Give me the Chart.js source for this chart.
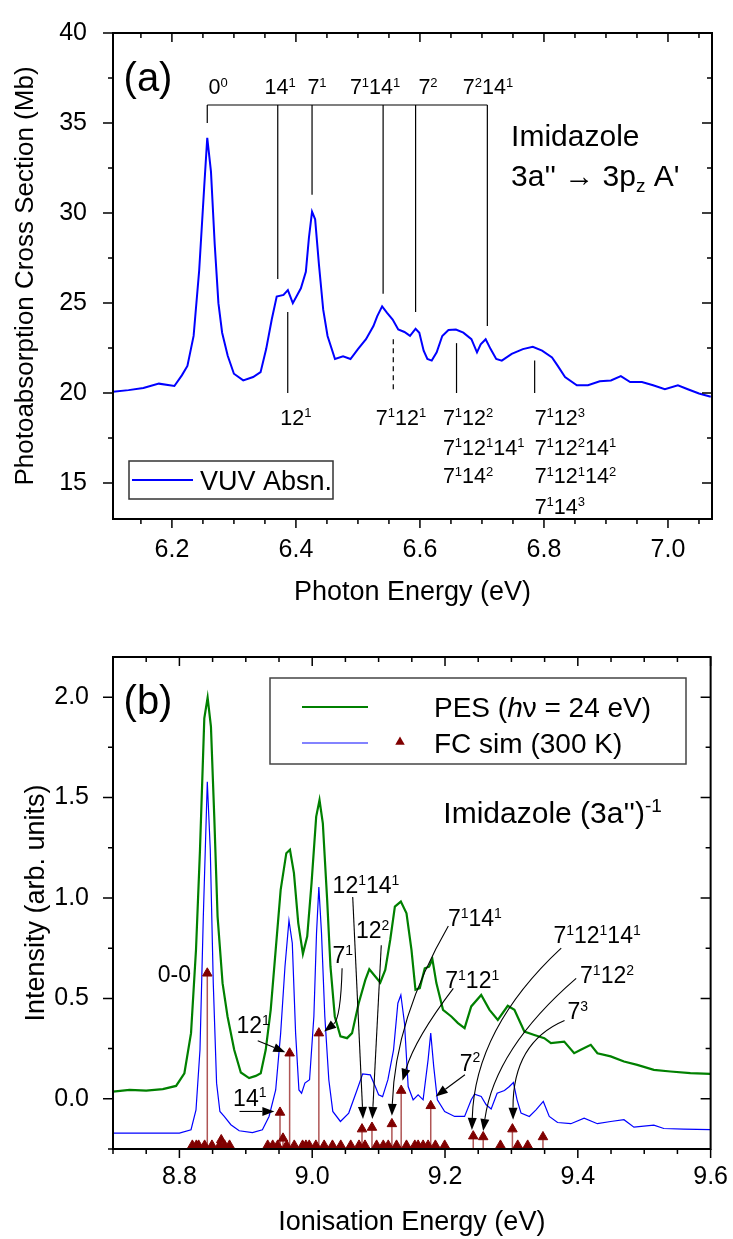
<!DOCTYPE html>
<html lang="en">
<head>
<meta charset="UTF-8" />
<title>Imidazole 3a'' spectra</title>
<style>
  html, body { margin: 0; padding: 0; background: #fff; }
  #wrap { position: relative; width: 733px; height: 1239px; }
  canvas { position: absolute; left: 0; }
  #chartA { top: 0; }
  #chartB { top: 620px; }
</style>
</head>
<body>
<div id="wrap">
  <canvas id="chartA" width="733" height="620"></canvas>
  <canvas id="chartB" width="733" height="619"></canvas>
</div>
<script src="https://cdn.jsdelivr.net/npm/chart.js@4.4.1/dist/chart.umd.min.js"></script>
<script>
// ---- panel (a): VUV absorption ----
const vuvEnergy = [6.105, 6.130, 6.154, 6.179, 6.204, 6.216, 6.225, 6.235, 6.244, 6.252,
  6.257, 6.263, 6.269, 6.275, 6.281, 6.290, 6.300, 6.315, 6.331, 6.343,
  6.352, 6.361, 6.369, 6.380, 6.387, 6.395, 6.408, 6.416, 6.421, 6.426,
  6.431, 6.437, 6.444, 6.451, 6.463, 6.476, 6.488, 6.500, 6.513, 6.525,
  6.531, 6.539, 6.547, 6.556, 6.565, 6.575, 6.584, 6.593, 6.599, 6.606,
  6.612, 6.619, 6.627, 6.636, 6.646, 6.658, 6.670, 6.683, 6.692, 6.698,
  6.706, 6.714, 6.723, 6.732, 6.748, 6.766, 6.782, 6.797, 6.813, 6.822,
  6.834, 6.853, 6.871, 6.890, 6.908, 6.924, 6.939, 6.958, 6.976, 6.995,
  7.016, 7.032, 7.050, 7.069];
const vuvCross = [20.07, 20.16, 20.28, 20.52, 20.39, 20.98, 21.5, 23.17, 26.82, 31.4,
  34.18, 32.3, 28.28, 24.99, 23.35, 22.07, 21.07, 20.7, 20.89, 21.16,
  22.44, 24.08, 25.36, 25.45, 25.72, 24.99, 25.82, 26.73, 28.64, 30.07,
  29.65, 27.18, 24.63, 23.17, 21.89, 22.04, 21.89, 22.44, 22.99, 23.72,
  24.26, 24.81, 24.45, 24.08, 23.53, 23.39, 23.17, 23.57, 23.35, 22.35,
  21.89, 21.8, 22.26, 23.17, 23.5, 23.53, 23.35, 22.99, 22.26, 22.71,
  22.99, 22.44, 21.89, 21.8, 22.17, 22.44, 22.57, 22.35, 21.98, 21.52,
  20.89, 20.43, 20.43, 20.65, 20.70, 20.94, 20.61, 20.61, 20.43, 20.21,
  20.43, 20.21, 19.97, 19.79];
const xTicksA = [6.2, 6.4, 6.6, 6.8, 7.0];
const yTicksA = [15, 20, 25, 30, 35, 40];

// ---- panel (b): PES, FC envelope and sticks ----
const pesEnergy = [8.7, 8.725, 8.75, 8.775, 8.795, 8.8075, 8.8175, 8.825, 8.831, 8.8375,
  8.8425, 8.8475, 8.8525, 8.8575, 8.865, 8.8725, 8.8825, 8.8925, 8.905, 8.915,
  8.9225, 8.93, 8.9375, 8.945, 8.9525, 8.961, 8.9665, 8.9725, 8.979, 8.986,
  8.9925, 8.999, 9.006, 9.011, 9.016, 9.0225, 9.0275, 9.034, 9.0425, 9.0525,
  9.06, 9.07, 9.08, 9.086, 9.095, 9.1025, 9.11, 9.1175, 9.1245, 9.1335,
  9.142, 9.1495, 9.1555, 9.162, 9.1695, 9.176, 9.181, 9.187, 9.197, 9.2095,
  9.2195, 9.2295, 9.2395, 9.2545, 9.267, 9.2795, 9.2945, 9.3045, 9.3195, 9.3345,
  9.3495, 9.3595, 9.3795, 9.3945, 9.4045, 9.4195, 9.4295, 9.4495, 9.4695, 9.4895,
  9.5145, 9.5395, 9.5695, 9.5995];
const pesIntensity = [0.036, 0.044, 0.041, 0.048, 0.064, 0.127, 0.327, 0.742, 1.24, 1.894,
  1.998, 1.853, 1.405, 0.907, 0.576, 0.41, 0.244, 0.131, 0.103, 0.114,
  0.127, 0.244, 0.443, 0.742, 1.04, 1.223, 1.24, 1.124, 0.875, 0.722,
  0.809, 1.074, 1.405, 1.488, 1.372, 0.991, 0.659, 0.41, 0.311, 0.302,
  0.327, 0.476, 0.592, 0.645, 0.609, 0.579, 0.642, 0.792, 0.957, 0.982,
  0.924, 0.742, 0.543, 0.551, 0.65, 0.658, 0.695, 0.576, 0.443, 0.41,
  0.377, 0.352, 0.46, 0.517, 0.443, 0.393, 0.463, 0.443, 0.335, 0.318,
  0.302, 0.277, 0.285, 0.227, 0.244, 0.269, 0.227, 0.211, 0.186, 0.169,
  0.144, 0.136, 0.128, 0.124];

const fcEnergy = [8.7, 8.8, 8.8175, 8.825, 8.831, 8.836, 8.842, 8.8465, 8.851, 8.856,
  8.861, 8.8675, 8.8775, 8.89, 8.91, 8.925, 8.935, 8.945, 8.9525, 8.959,
  8.965, 8.97, 8.975, 8.98, 8.984, 8.989, 8.996, 9.0025, 9.0065, 9.01,
  9.014, 9.019, 9.025, 9.031, 9.0425, 9.055, 9.0675, 9.076, 9.0875, 9.095,
  9.1, 9.106, 9.114, 9.1225, 9.129, 9.1335, 9.139, 9.1445, 9.152, 9.1595,
  9.167, 9.1745, 9.1785, 9.183, 9.1885, 9.1995, 9.2145, 9.2295, 9.2395, 9.2445,
  9.2545, 9.262, 9.2695, 9.2785, 9.2895, 9.297, 9.303, 9.3085, 9.3145, 9.327,
  9.337, 9.348, 9.357, 9.3695, 9.3895, 9.4095, 9.4295, 9.4495, 9.4695, 9.4845,
  9.5145, 9.5295, 9.5595, 9.5995];
const fcIntensity = [-0.171, -0.171, -0.154, -0.055, 0.244, 0.907, 1.579, 1.24, 0.576, 0.078,
  -0.063, -0.088, -0.129, -0.159, -0.168, -0.154, -0.088, 0.044, 0.327, 0.659,
  0.888, 0.775, 0.327, 0.044, 0.028, 0.078, 0.095, 0.41, 0.825, 1.054,
  0.825, 0.41, 0.095, -0.063, -0.113, -0.071, 0.044, 0.124, 0.119, 0.061,
  0.02, 0.011, 0.095, 0.244, 0.476, 0.517, 0.376, 0.061, -0.005, 0.02,
  -0.005, 0.194, 0.327, 0.16, -0.005, -0.063, -0.088, -0.088, -0.005, 0.023,
  0.012, -0.03, -0.051, 0.028, 0.041, 0.061, 0.081, -0.005, -0.071, -0.088,
  -0.055, -0.013, -0.088, -0.118, -0.124, -0.096, -0.124, -0.113, -0.104, -0.141,
  -0.131, -0.148, -0.151, -0.154];

const stickEnergy = [8.8195, 8.8255, 8.829, 8.838, 8.842, 8.849, 8.8605, 8.863, 8.868, 8.8755,
  8.933, 8.9405, 8.948, 8.9515, 8.956, 8.9615, 8.966, 8.973, 8.9855, 8.9905,
  8.9955, 9.0055, 9.01, 9.018, 9.0305, 9.043, 9.058, 9.0705, 9.075, 9.0795,
  9.09, 9.097, 9.107, 9.1145, 9.12, 9.127, 9.134, 9.142, 9.1545, 9.1595,
  9.167, 9.1745, 9.1785, 9.1855, 9.1995, 9.2425, 9.2575, 9.2835, 9.3015, 9.3095,
  9.3245, 9.3475];
const stickIntensity = [-0.232, -0.232, -0.232, -0.232, 0.625, -0.232, -0.232, -0.205, -0.232, -0.232,
  -0.232, -0.232, -0.232, -0.068, -0.197, -0.232, 0.227, -0.232, -0.232, -0.232,
  -0.232, -0.232, 0.327, -0.232, -0.232, -0.232, -0.232, -0.232, -0.151, -0.232,
  -0.143, -0.232, -0.232, -0.232, -0.125, -0.232, 0.041, -0.232, -0.232, -0.232,
  -0.232, -0.232, -0.035, -0.232, -0.232, -0.186, -0.19, -0.232, -0.151, -0.232,
  -0.232, -0.19];
const xTicksB = [8.8, 9.0, 9.2, 9.4, 9.6];
const yTicksB = [0.0, 0.5, 1.0, 1.5, 2.0];

// ---- assignment annotations (data coordinates) ----
const bracketA = { y: 36.0, lines: [[6.257, 35.0], [6.3707, 26.33], [6.426, 31.02], [6.5406, 25.51], [6.593, 24.5], [6.7087, 23.72]] };
const dropLinesA = [[6.3868, 24.5, false], [6.557, 22.99, true], [6.659, 22.77, false], [6.785, 21.8, false]];
const labelsA = [
  { t: '0^{0}', x: 6.2744, y: 37.02, a: 'center' },
  { t: '14^{1}', x: 6.3744, y: 37.02, a: 'center' },
  { t: '7^{1}', x: 6.434, y: 37.02, a: 'center' },
  { t: '7^{1}14^{1}', x: 6.5276, y: 37.02, a: 'center' },
  { t: '7^{2}', x: 6.613, y: 37.02, a: 'center' },
  { t: '7^{2}14^{1}', x: 6.7098, y: 37.02, a: 'center' },
  { t: '12^{1}', x: 6.400, y: 18.64, a: 'center' },
  { t: '7^{1}12^{1}', x: 6.5695, y: 18.64, a: 'center' },
  { t: '7^{1}12^{2}', x: 6.637, y: 18.64, a: 'left' },
  { t: '7^{1}12^{1}14^{1}', x: 6.637, y: 17.0, a: 'left' },
  { t: '7^{1}14^{2}', x: 6.637, y: 15.41, a: 'left' },
  { t: '7^{1}12^{3}', x: 6.785, y: 18.64, a: 'left' },
  { t: '7^{1}12^{2}14^{1}', x: 6.785, y: 17.0, a: 'left' },
  { t: '7^{1}12^{1}14^{2}', x: 6.785, y: 15.41, a: 'left' },
  { t: '7^{1}14^{3}', x: 6.785, y: 13.71, a: 'left' },
  { t: 'Imidazole', x: 6.747, y: 34.3, a: 'left', s: 30 },
  { t: "3a'' \u2192 3p_{z} A'", x: 6.747, y: 32.1, a: 'left', s: 30 }
];
const labelsB = [
  { t: '0-0', x: 8.7925, y: 0.625 },
  { t: '12^{1}', x: 8.911, y: 0.368 },
  { t: '14^{1}', x: 8.906, y: 0.007 },
  { t: '7^{1}', x: 9.046, y: 0.716 },
  { t: '12^{1}14^{1}', x: 9.081, y: 1.065 },
  { t: '12^{2}', x: 9.091, y: 0.84 },
  { t: '7^{1}14^{1}', x: 9.245, y: 0.90 },
  { t: '7^{1}12^{1}', x: 9.241, y: 0.592 },
  { t: '7^{2}', x: 9.2375, y: 0.181 },
  { t: '7^{1}12^{1}14^{1}', x: 9.429, y: 0.816 },
  { t: '7^{1}12^{2}', x: 9.444, y: 0.617 },
  { t: '7^{3}', x: 9.40, y: 0.438 }
];
const arrowsB = [
  { from: [8.918, 0.289], to: [8.9595, 0.232] },
  { from: [8.8905, -0.063], to: [8.943, -0.063] },
  { from: [9.045, 0.65], ctrl: [9.043, 0.40], to: [9.018, 0.335] },
  { from: [9.061, 1.005], to: [9.0765, -0.10] },
  { from: [9.104, 0.765], to: [9.0905, -0.10] },
  { from: [9.205, 0.86], ctrl: [9.125, 0.40], to: [9.12, -0.085] },
  { from: [9.2125, 0.55], ctrl: [9.155, 0.30], to: [9.136, 0.09] },
  { from: [9.23, 0.12], to: [9.186, 0.012] },
  { from: [9.375, 0.75], ctrl: [9.245, 0.35], to: [9.2405, -0.155] },
  { from: [9.3975, 0.6], ctrl: [9.275, 0.25], to: [9.2575, -0.16] },
  { from: [9.38, 0.39], ctrl: [9.302, 0.28], to: [9.3025, -0.104] }
];

const FONT = "'Liberation Sans', Arial, sans-serif";
Chart.defaults.font.family = FONT;
Chart.defaults.color = '#000';

function zip(xs, ys) { return xs.map((x, i) => ({ x: x, y: ys[i] })); }

function parseRich(str) {
  const segs = [];
  let i = 0, buf = '';
  while (i < str.length) {
    const c = str[i];
    if ((c === '^' || c === '_' || c === '*') && str[i + 1] === '{') {
      if (buf) { segs.push({ t: buf, k: '' }); buf = ''; }
      const end = str.indexOf('}', i);
      segs.push({ t: str.slice(i + 2, end), k: c });
      i = end + 1;
    } else { buf += c; i++; }
  }
  if (buf) segs.push({ t: buf, k: '' });
  return segs;
}

// text with ^{sup}, _{sub}, *{italic}; y is the vertical centre of the main glyphs
function drawRich(ctx, str, x, y, size, align) {
  const segs = parseRich(str);
  const small = Math.round(size * 0.62);
  const fontOf = s => (s.k === '*' ? 'italic ' : '') + ((s.k === '^' || s.k === '_') ? small : size) + 'px ' + FONT;
  let w = 0;
  segs.forEach(s => { ctx.font = fontOf(s); s.w = ctx.measureText(s.t).width; w += s.w; });
  let cx = align === 'center' ? x - w / 2 : (align === 'right' ? x - w : x);
  const base = y + size * 0.36;
  ctx.textAlign = 'left';
  ctx.textBaseline = 'alphabetic';
  segs.forEach(s => {
    ctx.font = fontOf(s);
    let dy = 0;
    if (s.k === '^') dy = -size * 0.36;
    if (s.k === '_') dy = size * 0.2;
    ctx.fillText(s.t, cx, base + dy);
    cx += s.w;
  });
}

function drawArrow(ctx, p0, c, p1) {
  const from = c || p0;
  const ang = Math.atan2(p1.y - from.y, p1.x - from.x);
  const L = 12, W = 4.5;
  const bx = p1.x - L * Math.cos(ang), by = p1.y - L * Math.sin(ang);
  ctx.beginPath();
  ctx.moveTo(p0.x, p0.y);
  if (c) ctx.quadraticCurveTo(c.x, c.y, bx, by); else ctx.lineTo(bx, by);
  ctx.stroke();
  ctx.beginPath();
  ctx.moveTo(p1.x, p1.y);
  ctx.lineTo(bx + W * Math.sin(ang), by - W * Math.cos(ang));
  ctx.lineTo(bx - W * Math.sin(ang), by + W * Math.cos(ang));
  ctx.closePath();
  ctx.fill();
}

function tickSet(min, max, step) {
  const out = [];
  for (let k = Math.ceil(min / step - 1e-6); k * step <= max + 1e-6; k++) out.push(+(k * step).toFixed(6));
  return out;
}

// frame plus major/minor ticks: outward on left/bottom, inward on top/right
function drawFrame(chart, xMajor, xStep, yMajor, yStep) {
  const { ctx, chartArea: a, scales } = chart;
  const sx = scales.x, sy = scales.y;
  const isMajor = (list, v) => list.some(m => Math.abs(m - v) < 1e-6);
  ctx.save();
  ctx.strokeStyle = '#000';
  ctx.lineWidth = 1.5;
  ctx.beginPath();
  tickSet(sx.min, sx.max, xStep).forEach(v => {
    const len = isMajor(xMajor, v) ? 9 : 5;
    const p = sx.getPixelForValue(v);
    ctx.moveTo(p, a.bottom); ctx.lineTo(p, a.bottom + len);
    ctx.moveTo(p, a.top); ctx.lineTo(p, a.top + len);
  });
  tickSet(sy.min, sy.max, yStep).forEach(v => {
    const len = isMajor(yMajor, v) ? 10 : 5;
    const p = sy.getPixelForValue(v);
    ctx.moveTo(a.left - len, p); ctx.lineTo(a.left, p);
    ctx.moveTo(a.right - len, p); ctx.lineTo(a.right, p);
  });
  ctx.stroke();
  ctx.lineWidth = 2;
  ctx.strokeRect(a.left, a.top, a.right - a.left, a.bottom - a.top);
  ctx.restore();
}

function axisOpts(min, max, tickList, fmt, pad, size, fitKey, fitVal, title, titleSize, titlePad) {
  return {
    type: 'linear', min: min, max: max,
    grid: { display: false }, border: { display: false },
    afterBuildTicks: s => { s.ticks = tickList.map(v => ({ value: v })); },
    afterFit: s => { s[fitKey] = fitVal; },
    ticks: { padding: pad, maxRotation: 0, autoSkip: false, color: '#000', font: { family: FONT, size: size }, callback: fmt },
    title: { display: true, text: title, color: '#000', font: { family: FONT, size: titleSize }, padding: titlePad }
  };
}

const panelA = {
  id: 'panelA',
  afterDraw(chart) {
    const { ctx, chartArea: a, scales: { x, y } } = chart;
    drawFrame(chart, xTicksA, 0.05, yTicksA, 2.5);
    ctx.save();
    ctx.strokeStyle = '#000';
    ctx.fillStyle = '#000';
    ctx.lineWidth = 1.2;
    // bracket of the main progression
    const by = y.getPixelForValue(bracketA.y);
    const xs = bracketA.lines.map(l => x.getPixelForValue(l[0]));
    ctx.beginPath();
    ctx.moveTo(xs[0], by); ctx.lineTo(xs[xs.length - 1], by);
    bracketA.lines.forEach((l, i) => { ctx.moveTo(xs[i], by); ctx.lineTo(xs[i], y.getPixelForValue(l[1])); });
    ctx.stroke();
    // lines from below
    dropLinesA.forEach(l => {
      ctx.setLineDash(l[2] ? [5, 4] : []);
      ctx.beginPath();
      const px = x.getPixelForValue(l[0]);
      ctx.moveTo(px, y.getPixelForValue(l[1]));
      ctx.lineTo(px, y.getPixelForValue(20.0));
      ctx.stroke();
    });
    ctx.setLineDash([]);
    labelsA.forEach(l => drawRich(ctx, l.t, x.getPixelForValue(l.x), y.getPixelForValue(l.y), l.s || 21.5, l.a));
    // panel tag
    drawRich(ctx, '(a)', a.left + 35, a.top + 44, 40, 'center');
    // legend
    ctx.strokeStyle = '#333';
    ctx.lineWidth = 1.5;
    ctx.strokeRect(a.left + 16, a.top + 428, 204, 38);
    ctx.strokeStyle = '#0000ff';
    ctx.lineWidth = 2;
    ctx.beginPath();
    ctx.moveTo(a.left + 19, a.top + 447); ctx.lineTo(a.left + 80, a.top + 447);
    ctx.stroke();
    drawRich(ctx, chart.data.datasets[0].label, a.left + 87, a.top + 447, 27, 'left');
    ctx.restore();
  }
};

const panelB = {
  id: 'panelB',
  beforeDatasetDraw(chart, args) {
    const ds = chart.data.datasets[args.index];
    if (ds.label !== 'FC sim (300 K)') return;
    const { ctx, scales: { x, y } } = chart;
    const r = ds.pointRadius;
    ctx.save();
    ctx.strokeStyle = 'rgb(175,85,85)';
    ctx.lineWidth = 1.5;
    ctx.beginPath();
    ds.data.forEach(p => {
      const px = x.getPixelForValue(p.x);
      ctx.moveTo(px, y.getPixelForValue(y.min));
      ctx.lineTo(px, y.getPixelForValue(p.y) + r / 2);
    });
    ctx.stroke();
    ctx.restore();
  },
  afterDraw(chart) {
    const { ctx, chartArea: a, scales: { x, y } } = chart;
    drawFrame(chart, xTicksB, 0.05, yTicksB, 0.25);
    ctx.save();
    ctx.fillStyle = '#000';
    ctx.strokeStyle = '#000';
    ctx.lineWidth = 1.1;
    const P = v => ({ x: x.getPixelForValue(v[0]), y: y.getPixelForValue(v[1]) });
    arrowsB.forEach(ar => drawArrow(ctx, P(ar.from), ar.ctrl ? P(ar.ctrl) : null, P(ar.to)));
    labelsB.forEach(l => drawRich(ctx, l.t, x.getPixelForValue(l.x), y.getPixelForValue(l.y), 23, 'center'));
    drawRich(ctx, "Imidazole (3a'')^{-1}", x.getPixelForValue(9.1975), y.getPixelForValue(1.429), 30, 'left');
    drawRich(ctx, '(b)', a.left + 35, a.top + 43, 40, 'center');
    // legend
    const ds = chart.data.datasets;
    ctx.strokeStyle = '#444';
    ctx.lineWidth = 1.5;
    ctx.strokeRect(a.left + 157, a.top + 21, 416, 86);
    ctx.lineWidth = 2.2;
    ctx.strokeStyle = ds[0].borderColor;
    ctx.beginPath(); ctx.moveTo(a.left + 189, a.top + 50); ctx.lineTo(a.left + 255, a.top + 50); ctx.stroke();
    ctx.lineWidth = 1.3;
    ctx.strokeStyle = '#5a5aff';
    ctx.beginPath(); ctx.moveTo(a.left + 189, a.top + 86); ctx.lineTo(a.left + 255, a.top + 86); ctx.stroke();
    const tx = a.left + 287, ty = a.top + 85, r = 5.5;
    ctx.fillStyle = ds[2].pointBackgroundColor;
    ctx.beginPath();
    ctx.moveTo(tx, ty - r);
    ctx.lineTo(tx + r * 0.866, ty + r / 2);
    ctx.lineTo(tx - r * 0.866, ty + r / 2);
    ctx.closePath(); ctx.fill();
    ctx.fillStyle = '#000';
    drawRich(ctx, 'PES (*{h}\u03bd = 24 eV)', a.left + 321, a.top + 50, 28, 'left');
    drawRich(ctx, ds[2].label, a.left + 321, a.top + 86, 28, 'left');
    ctx.restore();
  }
};

new Chart('chartA', {
  type: 'scatter',
  data: {
    datasets: [{
      label: 'VUV Absn.', data: zip(vuvEnergy, vuvCross), showLine: true,
      borderColor: '#0000ff', borderWidth: 2, pointRadius: 0, tension: 0
    }]
  },
  options: {
    responsive: false, animation: false, devicePixelRatio: 1,
    layout: { padding: { left: 0, top: 26, right: 21, bottom: 0 } },
    plugins: { legend: { display: false }, tooltip: { enabled: false } },
    scales: {
      x: axisOpts(6.105, 7.071, xTicksA, v => v.toFixed(1), 8, 25, 'height', 101,
        'Photon Energy (eV)', 27, { top: 0, bottom: 11 }),
      y: axisOpts(13, 40, yTicksA, v => String(v), 18, 25, 'width', 113,
        'Photoabsorption Cross Section (Mb)', 26, { top: 10, bottom: 0 })
    }
  },
  plugins: [panelA]
});

new Chart('chartB', {
  type: 'scatter',
  data: {
    datasets: [
      { label: 'PES', data: zip(pesEnergy, pesIntensity), showLine: true,
        borderColor: '#008000', borderWidth: 2.2, pointRadius: 0, tension: 0, order: 2 },
      { label: 'FC envelope', data: zip(fcEnergy, fcIntensity), showLine: true,
        borderColor: '#0000ff', borderWidth: 1.2, pointRadius: 0, tension: 0, order: 1 },
      { label: 'FC sim (300 K)', data: zip(stickEnergy, stickIntensity), showLine: false,
        pointStyle: 'triangle', pointRadius: 5.5, pointBackgroundColor: '#800000',
        pointBorderColor: '#800000', pointBorderWidth: 1, clip: false, order: 0 }
    ]
  },
  options: {
    responsive: false, animation: false, devicePixelRatio: 1,
    layout: { padding: { left: 0, top: 37, right: 20, bottom: 0 } },
    plugins: { legend: { display: false }, tooltip: { enabled: false } },
    scales: {
      x: axisOpts(8.7, 9.6, xTicksB, v => v.toFixed(1), 5, 25, 'height', 90,
        'Ionisation Energy (eV)', 27, { top: 0, bottom: 0 }),
      y: axisOpts(-0.25, 2.2, yTicksB, v => v.toFixed(1), 16, 25, 'width', 113,
        'Intensity (arb. units)', 27, { top: 20, bottom: 0 })
    }
  },
  plugins: [panelB]
});
</script>
</body>
</html>
